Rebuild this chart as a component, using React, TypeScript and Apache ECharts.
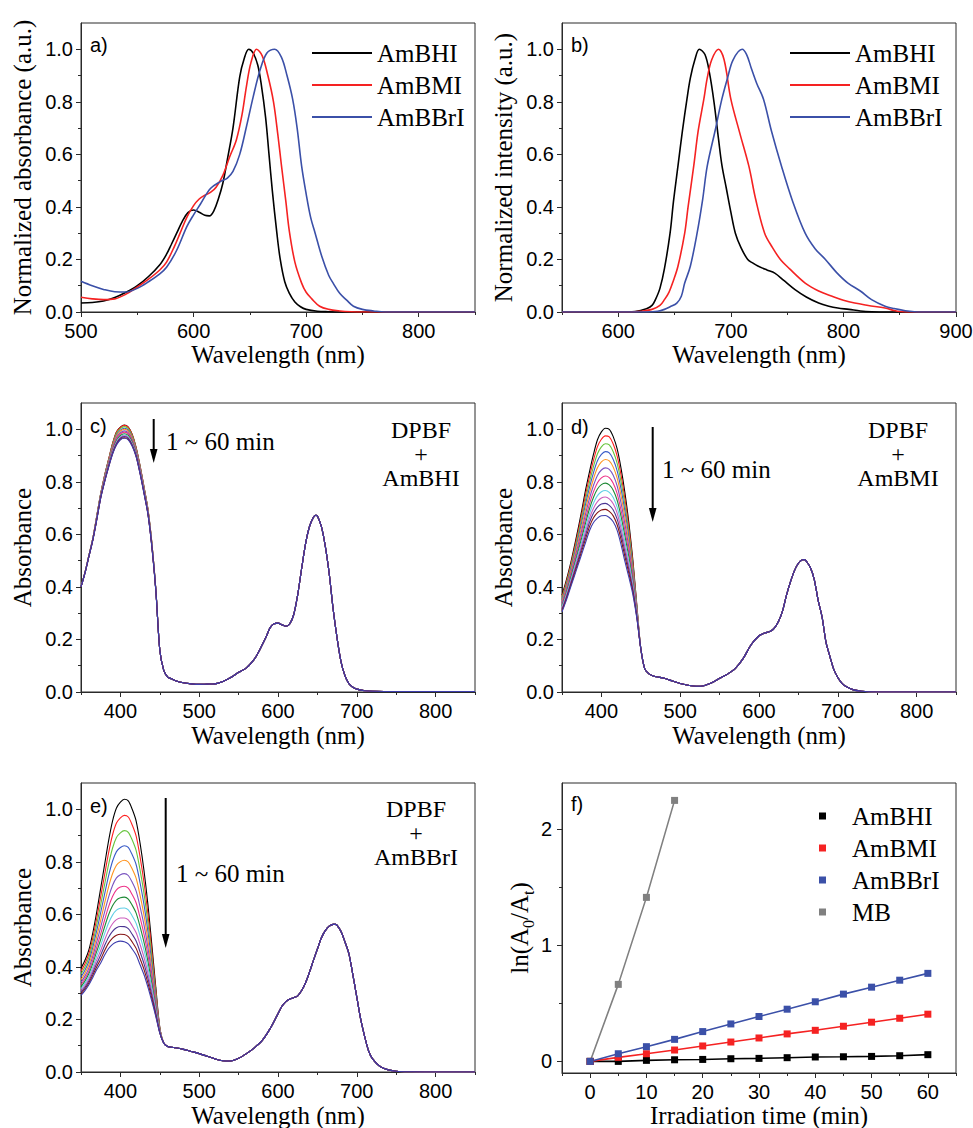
import React, { useEffect, useRef } from 'react';
import * as echarts from 'echarts';

const SERIF = '"Liberation Serif", "Times New Roman", Times, serif';
const SANS = '"Liberation Sans", Arial, Helvetica, sans-serif';
const AXIS = '#2a2a2a';

// ---------- a) normalized absorbance ----------
const aHIwl = [500,510,520,530,540,550,560,570,576,580,585,590,595,600,605,610,614,618,622,626,630,635,641,645,649,653,657,660,664,667,670,674,677,681,685,690,695,700,710,720,730,850];
const aHI = [0.034,0.036,0.042,0.055,0.075,0.10,0.135,0.18,0.22,0.255,0.30,0.345,0.378,0.388,0.38,0.368,0.366,0.385,0.43,0.49,0.58,0.70,0.895,0.965,1.0,0.985,0.94,0.87,0.74,0.60,0.46,0.30,0.20,0.115,0.072,0.038,0.02,0.01,0.003,0.001,0,0];
const aMIwl = [500,510,520,530,540,550,560,570,576,583,588,594,600,605,610,615,620,626,632,638,643,647,651,656,661,666,671,675,678,682,685,690,696,700,705,712,720,730,740,750,850];
const aMI = [0.056,0.05,0.047,0.05,0.068,0.095,0.125,0.16,0.19,0.25,0.30,0.36,0.405,0.43,0.445,0.455,0.475,0.52,0.59,0.655,0.75,0.86,0.95,1.0,0.975,0.90,0.80,0.67,0.56,0.42,0.31,0.19,0.11,0.075,0.05,0.022,0.01,0.004,0.001,0,0];
const aBrIwl = [500,510,520,530,540,550,560,570,576,585,594,600,606,615,624,630,635,641,647,653,659,665,672,678,683,688,692,696,700,704,708,714,720,724,730,736,742,750,760,770,850];
const aBrI = [0.117,0.10,0.086,0.077,0.076,0.09,0.115,0.145,0.17,0.235,0.325,0.37,0.41,0.47,0.497,0.51,0.535,0.60,0.706,0.82,0.92,0.985,1.0,0.97,0.90,0.81,0.70,0.555,0.45,0.36,0.30,0.21,0.14,0.11,0.07,0.045,0.022,0.01,0.004,0,0];

// ---------- b) normalized emission ----------
const bHIwl = [550,600,615,625,630,633,637,641,646,649,653,657,661,664,668,672,677,681,685,689,692,696,700,704,709,715,720,724,732,739,747,757,767,778,787,795,805,815,825,840,900];
const bHI = [0,0,0.002,0.012,0.025,0.047,0.09,0.165,0.30,0.42,0.555,0.69,0.81,0.89,0.96,1.0,0.98,0.91,0.80,0.66,0.56,0.47,0.38,0.30,0.245,0.20,0.185,0.175,0.16,0.148,0.12,0.085,0.057,0.034,0.022,0.015,0.01,0.004,0.001,0,0];
const bMIwl = [550,610,620,630,637,641,645,649,653,659,662,667,671,676,679,683,689,694,700,708,716,722,730,737,744,752,766,778,790,800,810,822,837,845,850,860,900];
const bMI = [0,0,0.003,0.01,0.025,0.047,0.075,0.12,0.174,0.30,0.40,0.555,0.69,0.81,0.89,0.96,1.0,0.96,0.81,0.68,0.555,0.43,0.30,0.245,0.20,0.165,0.11,0.08,0.06,0.045,0.034,0.025,0.015,0.006,0.002,0,0];
const bBrIwl = [550,625,635,641,646,652,656,659,664,670,675,679,686,692,697,702,710,714,718,723,729,736,745,755,766,775,784,794,804,815,825,837,845,855,863,870,900];
const bBrI = [0,0,0.003,0.01,0.02,0.034,0.06,0.11,0.174,0.30,0.43,0.555,0.69,0.81,0.89,0.96,1.0,0.98,0.93,0.87,0.81,0.69,0.555,0.42,0.30,0.24,0.20,0.15,0.11,0.08,0.047,0.022,0.013,0.005,0.001,0,0];

// ---------- c/d/e) DPBF decay spectra ----------
// DPBF band region: first (0 min) and last (60 min) spectra; peak height of every spectrum
const headWl = [350,355,360,365,370,375,380,385,390,395,400,405,410,415,420,425,430,435,440,445,450,455,460];

const cFirst = [0.40,0.455,0.52,0.585,0.67,0.755,0.825,0.885,0.945,0.99,1.008,1.016,1.008,0.98,0.93,0.86,0.78,0.695,0.565,0.39,0.16,0.082,0.057];
const cLast = [0.40,0.452,0.515,0.578,0.655,0.738,0.80,0.855,0.905,0.94,0.96,0.966,0.96,0.935,0.895,0.83,0.755,0.675,0.55,0.385,0.16,0.082,0.057];
const cPeaks = [1.016,1.015,1.010,1.004,1.000,0.994,0.989,0.983,0.978,0.975,0.972,0.968,0.966];
const cTailWl = [465,470,480,490,500,510,520,530,540,550,560,570,575,580,585,590,595,600,605,610,615,620,625,630,635,640,645,648,650,655,660,665,670,675,680,685,690,695,700,710,720,750,800,850];
const cTail = [0.05,0.043,0.035,0.031,0.029,0.03,0.031,0.04,0.055,0.075,0.092,0.125,0.15,0.18,0.21,0.245,0.26,0.262,0.256,0.25,0.26,0.295,0.37,0.47,0.565,0.63,0.665,0.673,0.67,0.63,0.555,0.45,0.315,0.205,0.115,0.062,0.032,0.018,0.011,0.005,0.003,0.002,0.002,0.002];

const dFirst = [0.369,0.42,0.478,0.545,0.615,0.69,0.77,0.84,0.905,0.96,0.99,1.004,1.0,0.972,0.925,0.85,0.755,0.64,0.50,0.33,0.165,0.088,0.07];
const dLast = [0.305,0.345,0.39,0.435,0.48,0.525,0.57,0.615,0.645,0.662,0.671,0.672,0.664,0.648,0.615,0.56,0.495,0.435,0.37,0.28,0.165,0.088,0.07];
const dPeaks = [1.004,0.975,0.945,0.915,0.885,0.853,0.822,0.795,0.767,0.742,0.718,0.695,0.672];
const dTailWl = [465,470,480,490,500,510,520,530,540,550,560,570,580,590,600,605,610,615,620,625,630,635,640,645,650,655,658,660,665,670,675,680,685,690,695,700,705,710,720,730,740,760,800,850];
const dTail = [0.062,0.058,0.052,0.042,0.032,0.026,0.022,0.024,0.035,0.052,0.068,0.09,0.128,0.18,0.214,0.222,0.227,0.232,0.245,0.27,0.31,0.37,0.42,0.462,0.49,0.503,0.504,0.498,0.475,0.43,0.35,0.286,0.19,0.135,0.085,0.055,0.034,0.022,0.008,0.003,0.001,0,0,0];

const eFirst = [0.395,0.425,0.465,0.53,0.61,0.70,0.79,0.88,0.955,1.005,1.027,1.038,1.032,1.0,0.955,0.87,0.765,0.635,0.48,0.32,0.17,0.11,0.097];
const eLast = [0.292,0.31,0.332,0.36,0.39,0.415,0.445,0.47,0.486,0.495,0.498,0.496,0.488,0.468,0.445,0.408,0.37,0.322,0.268,0.21,0.148,0.11,0.097];
const ePeaks = [1.038,0.977,0.919,0.862,0.807,0.756,0.708,0.667,0.626,0.588,0.555,0.525,0.498];
const eTailWl = [465,470,480,490,500,510,520,530,540,550,560,570,580,590,600,605,610,615,620,625,630,635,640,645,650,655,660,665,670,673,675,680,685,690,695,700,705,710,715,720,730,740,750,770,800,850];
const eTail = [0.094,0.092,0.086,0.078,0.07,0.06,0.05,0.043,0.042,0.052,0.07,0.092,0.12,0.165,0.222,0.25,0.268,0.278,0.283,0.29,0.31,0.34,0.38,0.425,0.468,0.51,0.538,0.555,0.562,0.562,0.558,0.535,0.495,0.45,0.37,0.285,0.2,0.135,0.08,0.05,0.02,0.008,0.003,0.001,0,0];

// ---------- f) kinetics ----------
const fTime = [0,5,10,15,20,25,30,35,40,45,50,55,60];
const fHI = [0,0,0.009,0.014,0.017,0.023,0.026,0.032,0.038,0.04,0.043,0.049,0.058];
const fMI = [0,0.035,0.066,0.098,0.133,0.167,0.202,0.237,0.268,0.303,0.338,0.372,0.407];
const fBrI = [0,0.066,0.127,0.19,0.257,0.323,0.387,0.45,0.514,0.58,0.64,0.70,0.759];
const fMBtime = [0,5,10,15];
const fMB = [0,0.664,1.414,2.25];

// tick values
const tick01 = [0,0.2,0.4,0.6,0.8,1.0];
const tick01m = [0.1,0.3,0.5,0.7,0.9];
const aX = [500,600,700,800];
const aXm = [550,650,750,850];
const bX = [600,700,800,900];
const bXm = [550,650,750,850];
const cX = [400,500,600,700,800];
const cXm = [350,450,550,650,750,850];
const fX = [0,10,20,30,40,50,60];
const fXm = [-5,5,15,25,35,45,55,65];
const fY = [0,1,2];
const fYm = [0.5,1.5];

const dyeColors = ['#000000','#ff2020','#66c43c','#3a5cc8','#ff9420','#7a55c0','#ee3388','#1f8a36','#62cfe6','#cc5fbd','#4b3592','#861414','#3d3dad'];
const C_BLACK = '#000000', C_RED = '#f52222', C_BLUE = '#3b50a8', C_GRAY = '#808080';

type AxisSpec = { min: number; max: number; major: number[]; minor: number[]; digits: number; name: string; gap: number; nameStyle?: any; margin?: number };

function makeAxes(dim: 'x' | 'y', grid: number, s: AxisSpec) {
  const position = dim === 'x' ? 'bottom' : 'left';
  const main = {
    type: 'value', gridIndex: grid, min: s.min, max: s.max, position,
    name: s.name, nameLocation: 'middle', nameGap: s.gap,
    nameTextStyle: s.nameStyle || { fontFamily: SERIF, fontSize: 25, color: '#000' },
    axisLine: { show: true, onZero: false, lineStyle: { color: AXIS, width: 1 } },
    axisTick: { show: true, inside: false, length: 5, customValues: s.major, lineStyle: { color: AXIS, width: 1 } },
    axisLabel: {
      show: true, customValues: s.major, margin: s.margin ?? (dim === 'x' ? 9 : 8),
      fontFamily: SANS, fontSize: 20, color: '#000',
      formatter: (v: number) => (s.digits === 0 ? String(Math.round(v)) : Number(v).toFixed(s.digits)),
    },
    splitLine: { show: false },
  };
  const minor = {
    type: 'value', gridIndex: grid, min: s.min, max: s.max, position,
    axisLine: { show: false, onZero: false },
    axisTick: { show: true, inside: false, length: 3, customValues: s.minor, lineStyle: { color: AXIS, width: 1 } },
    axisLabel: { show: false },
    splitLine: { show: false },
  };
  return [main, minor];
}

function spec(g: number, name: string, xs: number[], ys: number[], color: string, width: number, extra: any = {}) {
  return {
    type: 'line', name, xAxisIndex: 2 * g, yAxisIndex: 2 * g,
    data: xs.map((x, i) => [x, ys[i]]),
    symbol: 'none', smooth: 0.35, silent: true,
    lineStyle: { color, width }, itemStyle: { color },
    emphasis: { disabled: true },
    ...extra,
  };
}

function decaySeries(g: number, tag: string, first: number[], last: number[], peaks: number[], tailWl: number[], tail: number[]) {
  const p0 = peaks[0], pN = peaks[peaks.length - 1];
  return peaks.map((p, i) => {
    const w = (p - pN) / (p0 - pN);
    const head = headWl.map((x, k) => [x, last[k] + w * (first[k] - last[k])]);
    const rest = tailWl.map((x, k) => [x, tail[k]]);
    return {
      type: 'line', name: tag + i, xAxisIndex: 2 * g, yAxisIndex: 2 * g,
      data: head.concat(rest), symbol: 'none', smooth: 0.3, silent: true,
      lineStyle: { color: dyeColors[i], width: 1.1 }, itemStyle: { color: dyeColors[i] },
      emphasis: { disabled: true },
    };
  });
}

const stripTag = (n: string) => n.split(':')[1];

function arrow(x: number, y1: number, y2: number) {
  return {
    type: 'group',
    children: [
      { type: 'line', shape: { x1: x, y1, x2: x, y2: y2 - 10 }, style: { stroke: '#000', lineWidth: 2 } },
      { type: 'polygon', shape: { points: [[x - 3.8, y2 - 14], [x + 3.8, y2 - 14], [x, y2]] }, style: { fill: '#000' } },
    ],
  };
}
function txt(text: string, x: number, y: number, font: string, size: number, align = 'left') {
  return { type: 'text', x, y, style: { text, fontFamily: font, fontSize: size, fill: '#000', align, verticalAlign: 'middle' } };
}
function stack(lines: string[], x: number, yTop: number, step: number) {
  return lines.map((l, i) => txt(l, x, yTop + i * step, SERIF, 24, 'center'));
}

export default function App() {
  const ref = useRef<HTMLDivElement>(null);
  useEffect(() => {
    if (!ref.current) return;
    const chart = echarts.init(ref.current, undefined, { renderer: 'svg' });
    const gridBase = { show: true, borderColor: AXIS, borderWidth: 1, backgroundColor: 'transparent', containLabel: false, outerBoundsMode: 'none' };
    const grids = [
      { left: 81, top: 23, width: 394, height: 289 },
      { left: 562, top: 23, width: 394, height: 289 },
      { left: 81, top: 403, width: 394, height: 289 },
      { left: 562, top: 403, width: 394, height: 289 },
      { left: 81, top: 783, width: 394, height: 289 },
      { left: 562, top: 783, width: 394, height: 290 },
    ].map((g) => ({ ...gridBase, ...g }));

    const xAxes = [
      ...makeAxes('x', 0, { min: 500, max: 850, major: aX, minor: aXm, digits: 0, name: 'Wavelength (nm)', gap: 30 }),
      ...makeAxes('x', 1, { min: 550, max: 900, major: bX, minor: bXm, digits: 0, name: 'Wavelength (nm)', gap: 30 }),
      ...makeAxes('x', 2, { min: 350, max: 850, major: cX, minor: cXm, digits: 0, name: 'Wavelength (nm)', gap: 31 }),
      ...makeAxes('x', 3, { min: 350, max: 850, major: cX, minor: cXm, digits: 0, name: 'Wavelength (nm)', gap: 31 }),
      ...makeAxes('x', 4, { min: 350, max: 850, major: cX, minor: cXm, digits: 0, name: 'Wavelength (nm)', gap: 31 }),
      ...makeAxes('x', 5, { min: -5, max: 65, major: fX, minor: fXm, digits: 0, name: 'Irradiation time (min)', gap: 30 }),
    ];
    const yAxes = [
      ...makeAxes('y', 0, { min: 0, max: 1.1, major: tick01, minor: tick01m, digits: 1, name: 'Normalized absorbance (a.u.)', gap: 46 }),
      ...makeAxes('y', 1, { min: 0, max: 1.1, major: tick01, minor: tick01m, digits: 1, name: 'Normalized intensity (a.u.)', gap: 46 }),
      ...makeAxes('y', 2, { min: 0, max: 1.1, major: tick01, minor: tick01m, digits: 1, name: 'Absorbance', gap: 46 }),
      ...makeAxes('y', 3, { min: 0, max: 1.1, major: tick01, minor: tick01m, digits: 1, name: 'Absorbance', gap: 46 }),
      ...makeAxes('y', 4, { min: 0, max: 1.1, major: tick01, minor: tick01m, digits: 1, name: 'Absorbance', gap: 46 }),
      ...makeAxes('y', 5, {
        min: -0.1, max: 2.4, major: fY, minor: fYm, digits: 0, name: 'ln(A{s|0}/A{s|t})', gap: 22, margin: 10,
        nameStyle: {
          fontFamily: SERIF, fontSize: 25, color: '#000', lineHeight: 34,
          rich: { s: { fontFamily: SERIF, fontSize: 16, color: '#000', verticalAlign: 'bottom', lineHeight: 18 } },
        },
      }),
    ];

    const series: any[] = [
      spec(0, 'a:AmBHI', aHIwl, aHI, C_BLACK, 1.6),
      spec(0, 'a:AmBMI', aMIwl, aMI, C_RED, 1.6),
      spec(0, 'a:AmBBrI', aBrIwl, aBrI, C_BLUE, 1.6),
      spec(1, 'b:AmBHI', bHIwl, bHI, C_BLACK, 1.6),
      spec(1, 'b:AmBMI', bMIwl, bMI, C_RED, 1.6),
      spec(1, 'b:AmBBrI', bBrIwl, bBrI, C_BLUE, 1.6),
      ...decaySeries(2, 'c', cFirst, cLast, cPeaks, cTailWl, cTail),
      ...decaySeries(3, 'd', dFirst, dLast, dPeaks, dTailWl, dTail),
      ...decaySeries(4, 'e', eFirst, eLast, ePeaks, eTailWl, eTail),
      spec(5, 'f:MB', fMBtime, fMB, C_GRAY, 1.6, { symbol: 'rect', symbolSize: 7, smooth: false, showSymbol: true }),
      spec(5, 'f:AmBHI', fTime, fHI, C_BLACK, 1.6, { symbol: 'rect', symbolSize: 7, smooth: false, showSymbol: true }),
      spec(5, 'f:AmBMI', fTime, fMI, C_RED, 1.6, { symbol: 'rect', symbolSize: 7, smooth: false, showSymbol: true }),
      spec(5, 'f:AmBBrI', fTime, fBrI, C_BLUE, 1.6, { symbol: 'rect', symbolSize: 7, smooth: false, showSymbol: true }),
    ];

    const legendText = { fontFamily: SERIF, fontSize: 25, color: '#000', lineHeight: 26 };
    const legends = [
      { left: 312, top: 40, orient: 'vertical', padding: 0, icon: 'rect', itemWidth: 60, itemHeight: 2, itemGap: 6, selectedMode: false, formatter: stripTag, textStyle: legendText, data: ['a:AmBHI', 'a:AmBMI', 'a:AmBBrI'] },
      { left: 790, top: 40, orient: 'vertical', padding: 0, icon: 'rect', itemWidth: 60, itemHeight: 2, itemGap: 6, selectedMode: false, formatter: stripTag, textStyle: legendText, data: ['b:AmBHI', 'b:AmBMI', 'b:AmBBrI'] },
      { left: 819, top: 803, orient: 'vertical', padding: 0, icon: 'rect', itemWidth: 7, itemHeight: 7, itemGap: 6, selectedMode: false, formatter: stripTag, textStyle: { ...legendText, padding: [0, 0, 0, 21] }, data: ['f:AmBHI', 'f:AmBMI', 'f:AmBBrI', 'f:MB'] },
    ];

    const graphic = [
      txt('a)', 90, 45, SANS, 20),
      txt('b)', 571, 45, SANS, 20),
      txt('c)', 90, 426, SANS, 20),
      txt('d)', 571, 427, SANS, 20),
      txt('e)', 90, 806, SANS, 20),
      txt('f)', 571, 804, SANS, 20),
      arrow(153.7, 419, 463),
      arrow(652.7, 427, 522),
      arrow(165.7, 798, 948),
      txt('1 ~ 60 min', 166, 441, SERIF, 25),
      txt('1 ~ 60 min', 662, 469, SERIF, 25),
      txt('1 ~ 60 min', 176, 873, SERIF, 25),
      ...stack(['DPBF', '+', 'AmBHI'], 421, 430, 24),
      ...stack(['DPBF', '+', 'AmBMI'], 898, 430, 24),
      ...stack(['DPBF', '+', 'AmBBrI'], 416, 809.3, 24),
    ];

    chart.setOption({
      animation: false,
      backgroundColor: '#ffffff',
      grid: grids,
      xAxis: xAxes,
      yAxis: yAxes,
      legend: legends,
      series,
      graphic,
    } as any);
    return () => chart.dispose();
  }, []);
  return <div ref={ref} style={{ position: 'fixed', left: 0, top: 0, width: 973, height: 1128, background: '#fff' }} />;
}
